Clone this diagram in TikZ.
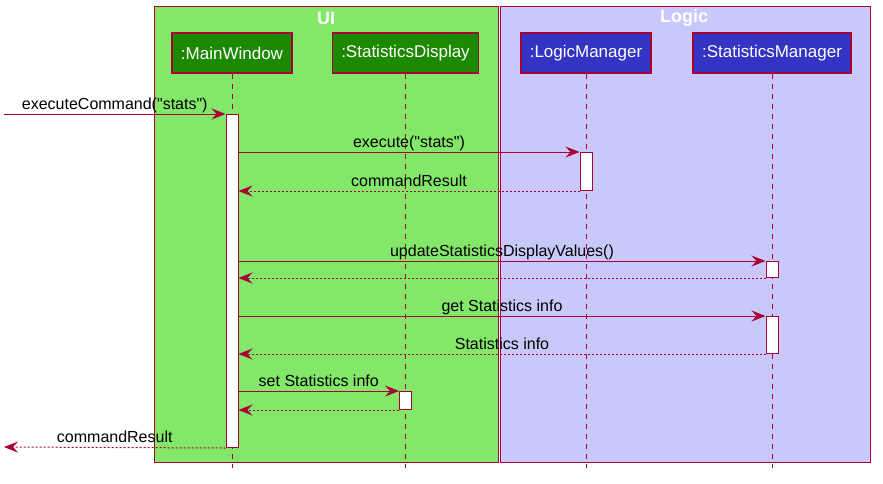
\documentclass[tikz,border=0pt]{standalone}
\usepackage{fontspec}
\setmainfont{Liberation Sans}
\usetikzlibrary{arrows.meta,positioning,calc}
\definecolor{bordercol}{HTML}{A80036}
\definecolor{uidark}{HTML}{1D8900}
\definecolor{uilight}{HTML}{83E769}
\definecolor{logicdark}{HTML}{3333C4}
\definecolor{logiclight}{HTML}{C8C8FA}
\begin{document}
\begin{tikzpicture}[x=1pt, y=-1pt,
  part/.style={draw=bordercol, line width=1.5pt, text=white, font=\fontsize{17}{20}\selectfont, minimum height=40pt, inner xsep=9pt},
  life/.style={draw=bordercol, line width=1pt, dash pattern=on 5pt off 5pt},
  act/.style={draw=bordercol, fill=white, line width=1pt, minimum width=12pt, inner sep=0pt, anchor=north},
  msg/.style={draw=bordercol, line width=1pt, -{Stealth[length=14pt, width=11pt, inset=5pt]}},
  ret/.style={msg, dash pattern=on 2pt off 2pt},
  lbl/.style={font=\fontsize{16}{18}\selectfont, anchor=base, yshift=5pt, inner sep=0pt},
  grp/.style={draw=bordercol, line width=1pt},
  ttl/.style={font=\bfseries\fontsize{18}{20}\selectfont, text=white}]
\useasboundingbox (0,0) rectangle (883,483);
\draw[grp, fill=uilight] (154,6) rectangle (498,462);
\draw[grp, fill=logiclight] (500,6) rectangle (870,462);
\node[ttl] (uittl) at (326,18) {UI};
\node[ttl] (logicttl) at (684,18) {Logic};
\node[part, fill=uidark] (mw) at (232,53) {:MainWindow};
\node[part, fill=uidark] (sd) at (405.5,53) {:StatisticsDisplay};
\node[part, fill=logicdark] (lm) at (586,53) {:LogicManager};
\node[part, fill=logicdark] (sm) at (772,53) {:StatisticsManager};
\coordinate (bot) at (0,468);
\foreach \p in {mw,sd,lm,sm}{\draw[life] (\p.south) -- (\p.south |- bot);}
\node[act, minimum height=333pt] (mwact) at (mw.south |- 0,114) {};
\node[act, minimum height=38pt] (lmact) at (lm.south |- 0,152) {};
\node[act, minimum height=16pt] (smact) at (sm.south |- 0,261) {};
\node[act, minimum height=37pt] (sminfo) at (sm.south |- 0,316) {};
\node[act, minimum height=18pt] (sdact) at (sd.south |- 0,391) {};
\coordinate (src) at (4,114);
\coordinate (dst) at (4,447);
\draw[msg] (src) -- (mwact.north west) node[lbl, midway] {executeCommand(\textquotedbl stats\textquotedbl)};
\draw[msg] (mwact.east |- lmact.north) -- (lmact.north west) node[lbl, midway] {execute(\textquotedbl stats\textquotedbl)};
\draw[ret] (lmact.south west) -- (mwact.east |- lmact.south) node[lbl, midway] {commandResult};
\draw[msg] (mwact.east |- smact.north) -- (smact.north west) node[lbl, midway] {updateStatisticsDisplayValues()};
\draw[ret] (smact.south west) -- (mwact.east |- smact.south);
\draw[msg] (mwact.east |- sminfo.north) -- (sminfo.north west) node[lbl, midway] {get Statistics info};
\draw[ret] (sminfo.south west) -- (mwact.east |- sminfo.south) node[lbl, midway] {Statistics info};
\draw[msg] (mwact.east |- sdact.north) -- (sdact.north west) node[lbl, midway] {set Statistics info};
\draw[ret] (sdact.south west) -- (mwact.east |- sdact.south);
\draw[ret] (mwact.south west) -- (dst) node[lbl, midway] {commandResult};
\end{tikzpicture}
\end{document}
